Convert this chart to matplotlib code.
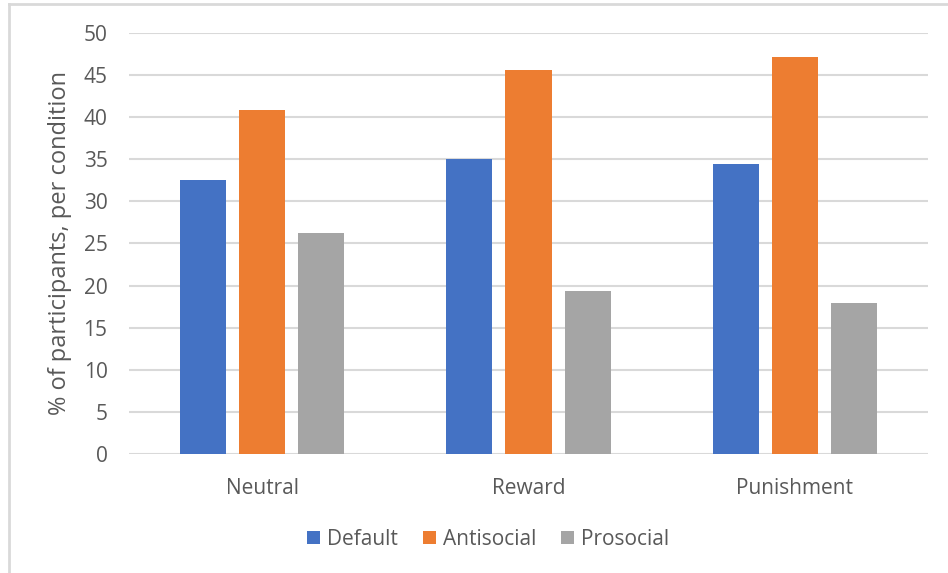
import numpy as np
import matplotlib
matplotlib.use("Agg")
import matplotlib.pyplot as plt
from matplotlib.lines import Line2D

conditions = ["Neutral", "Reward", "Punishment"]
series = ["Default", "Antisocial", "Prosocial"]
default_pct = [32.6, 35.0, 34.5]
antisocial_pct = [40.9, 45.6, 47.2]
prosocial_pct = [26.2, 19.3, 17.9]
colors = ["#4472C4", "#ED7D31", "#A5A5A5"]

plt.rcParams['font.family'] = ['Open Sans', 'DejaVu Sans']
text_col = "#595959"
grid_col = "#D9D9D9"

fig = plt.figure(figsize=(9.48, 5.73), dpi=100)
ax = fig.add_axes([0.1361, 0.2077, 0.8428, 0.7347])

x = np.arange(len(conditions))
width = 0.173
step = 0.222
for i, (name, vals) in enumerate(zip(series, [default_pct, antisocial_pct, prosocial_pct])):
    ax.bar(x + (i - 1) * step, vals, width, color=colors[i], label=name, zorder=3)

ax.set_xlim(-0.5, 2.5)
ax.set_ylim(0, 50)
ax.set_yticks(np.arange(0, 51, 5))
ax.yaxis.grid(True, color=grid_col, linewidth=1.5, zorder=0)
for s in ax.spines.values():
    s.set_visible(False)
ax.tick_params(axis='both', length=0, labelsize=15, colors=text_col)
ax.tick_params(axis='y', pad=15.5)
ax.tick_params(axis='x', pad=17)
ax.set_xticks(x)
ax.set_xticklabels(conditions)
ax.set_ylabel("% of participants, per condition", fontsize=17, color=text_col, labelpad=8)

fig.legend(loc='center', bbox_to_anchor=(0.515, 0.059), ncol=3, frameon=False,
           fontsize=15, labelcolor=text_col, handlelength=0.6, handleheight=0.6,
           handletextpad=0.35, columnspacing=1.2)

# chart border (left and top edges only)
fig.add_artist(Line2D([9 / 948, 9 / 948], [0, 1 - 4 / 573], color=grid_col, linewidth=2))
fig.add_artist(Line2D([9 / 948, 1], [1 - 4 / 573, 1 - 4 / 573], color=grid_col, linewidth=2))

fig.savefig("out.png", dpi=100, facecolor="white")
